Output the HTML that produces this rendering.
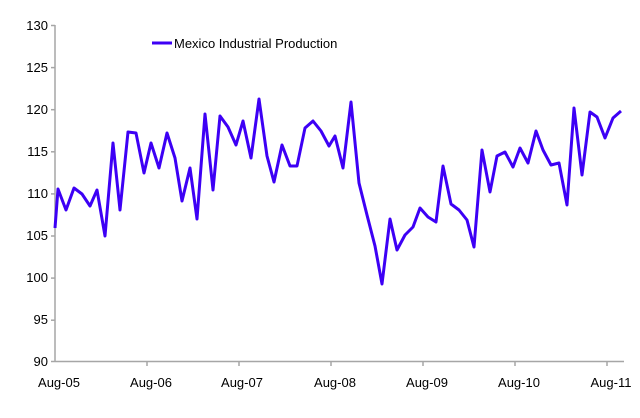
<!DOCTYPE html>
<html><head><style>body{margin:0;background:#fff}svg{display:block}text{font-family:"Liberation Sans",sans-serif;font-size:13px;fill:#000}</style></head><body>
<svg width="640" height="418" viewBox="0 0 640 418">
<g stroke="#a6a6a6" stroke-width="1.5" fill="none">
<line x1="55" y1="25" x2="55" y2="362"/>
<line x1="55" y1="361.5" x2="624" y2="361.5"/>
<line x1="51" y1="25.5" x2="55" y2="25.5"/><line x1="51" y1="67.6" x2="55" y2="67.6"/><line x1="51" y1="109.7" x2="55" y2="109.7"/><line x1="51" y1="151.8" x2="55" y2="151.8"/><line x1="51" y1="193.9" x2="55" y2="193.9"/><line x1="51" y1="236" x2="55" y2="236"/><line x1="51" y1="278.1" x2="55" y2="278.1"/><line x1="51" y1="320.2" x2="55" y2="320.2"/><line x1="51" y1="361.5" x2="55" y2="361.5"/>
<line x1="147" y1="361" x2="147" y2="366"/><line x1="239" y1="361" x2="239" y2="366"/><line x1="331" y1="361" x2="331" y2="366"/><line x1="423" y1="361" x2="423" y2="366"/><line x1="515" y1="361" x2="515" y2="366"/><line x1="607" y1="361" x2="607" y2="366"/>
</g>
<g text-anchor="end">
<text x="48" y="30">130</text><text x="48" y="72">125</text><text x="48" y="114">120</text><text x="48" y="156">115</text><text x="48" y="198">110</text><text x="48" y="240">105</text><text x="48" y="282">100</text><text x="48" y="324">95</text><text x="48" y="366">90</text>
</g>
<g text-anchor="middle">
<text x="59" y="387">Aug-05</text><text x="151" y="387">Aug-06</text><text x="242" y="387">Aug-07</text><text x="335" y="387">Aug-08</text><text x="427" y="387">Aug-09</text><text x="519" y="387">Aug-10</text><text x="611" y="387">Aug-11</text>
</g>
<polyline fill="none" stroke="#3d00f5" stroke-width="3" stroke-linejoin="round" points="55,228 58,189 66,210 74,188 82,194 90,206 97,190 105,236 113,143 120,210 128,132 136,133 144,173 151,143 159,168 167,133 175,158 182,201 190,168 197,219 205,114 213,190 220,116 228,127 236,145 243,121 251,158 259,99 267,156 274,182 282,145 290,166 297,166 305,128 313,121 321,131 329,146 335,136 343,168 351,102 359,183 367,215 375,246 382,284 390,219 397,250 405,235 413,227 420,208 428,217 436,222 443,166 451,204 459,210 467,220 474,247 482,150 490,192 497,156 505,152 513,167 520,148 528,163 536,131 543,150 551,165 559,163 567,205 574,108 582,175 590,112 597,117 605,138 613,118 621,111"/>
<line x1="152" y1="43" x2="172" y2="43" stroke="#3d00f5" stroke-width="3"/>
<text x="174" y="48">Mexico Industrial Production</text>
</svg>
</body></html>
